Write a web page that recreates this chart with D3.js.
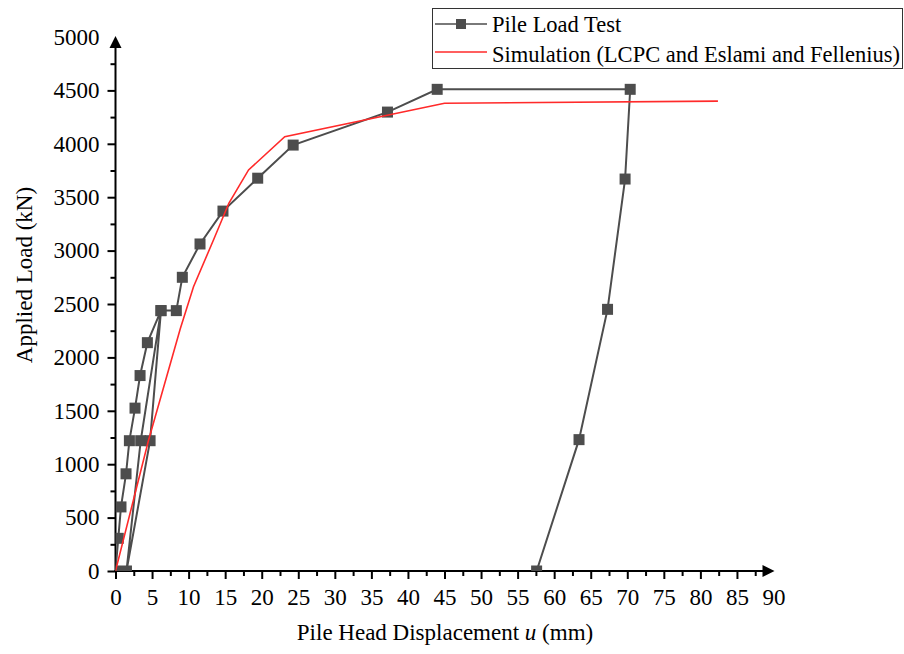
<!DOCTYPE html>
<html>
<head>
<meta charset="utf-8">
<script src="https://cdn.jsdelivr.net/npm/d3@7"></script>
<style>
  html, body { margin: 0; padding: 0; background: #fff; }
  svg { display: block; }
  text { font-family: "Liberation Serif", "Times New Roman", serif; fill: #000; }
</style>
</head>
<body>
<svg id="chart" width="904" height="654"></svg>
<script>
// Pile load test: displacement (mm) and applied load (kN), in test order
const testDisp = [0, 0.38, 0.75, 1.44, 1.9, 2.67, 3.36, 4.36, 6.22, 3.45, 1.5, 4.73, 6.22, 8.32,
  9.14, 11.56, 14.7, 19.45, 24.3, 37.2, 44.0, 70.4, 69.7, 67.3, 63.4, 57.6];
const testLoad = [0, 306, 600, 910, 1220, 1525, 1830, 2138, 2438, 1220, 0, 1220, 2438, 2438,
  2750, 3062, 3370, 3678, 3988, 4297, 4510, 4510, 3670, 2450, 1230, 0];

// Simulated curve (LCPC and Eslami and Fellenius)
const simDisp = [0, 4.5, 8.85, 10.67, 13.4, 15.5, 18.2, 23.15, 45.0, 82.4];
const simLoad = [0, 1220, 2266, 2662, 3099, 3443, 3755, 4066, 4380, 4400];

const xMajorTicks = d3.range(0, 91, 5);
const xMinorTicks = d3.range(2.5, 90, 5);
const yMajorTicks = d3.range(0, 5001, 500);
const yMinorTicks = d3.range(250, 5000, 500);

const seriesNames = ["Pile Load Test", "Simulation (LCPC and Eslami and Fellenius)"];

const svg = d3.select("#chart");
const x = d3.scaleLinear().domain([0, 90]).range([115.5, 773.5]);
const y = d3.scaleLinear().domain([0, 5000]).range([571, 37]);

const grey = "#4d4d4d";
const red = "#ff2a2a";
const fontSize = 23;
const legendFont = 22.5;

// plot-area clip so markers sitting on the axis are cut at the frame
svg.append("defs").append("clipPath").attr("id", "plotClip")
  .append("rect")
  .attr("x", x(0)).attr("y", y(5000))
  .attr("width", x(90) - x(0)).attr("height", y(0) - y(5000));

// ---- axes ----
const xAxis = svg.append("g").attr("transform", `translate(0,${y(0)})`)
  .call(d3.axisBottom(x).tickValues(xMajorTicks).tickSize(8).tickPadding(10)
    .tickFormat(d3.format("d")));
xAxis.select(".domain").remove();
xAxis.selectAll("line").attr("stroke", "#000").attr("stroke-width", 2);
xAxis.selectAll("text").style("font-size", fontSize + "px")
  .style("font-family", "'Liberation Serif', serif").attr("fill", "#000");
// the last tick sits under the arrowhead
xAxis.selectAll(".tick").filter(d => d === 90).select("line").remove();

const xMinor = svg.append("g").attr("transform", `translate(0,${y(0)})`)
  .call(d3.axisBottom(x).tickValues(xMinorTicks).tickSize(5).tickFormat(""));
xMinor.select(".domain").remove();
xMinor.selectAll("line").attr("stroke", "#000").attr("stroke-width", 2);

const yAxis = svg.append("g").attr("transform", `translate(${x(0)},0)`)
  .call(d3.axisLeft(y).tickValues(yMajorTicks).tickSize(8).tickPadding(8)
    .tickFormat(d3.format("d")));
yAxis.select(".domain").remove();
yAxis.selectAll("line").attr("stroke", "#000").attr("stroke-width", 2);
yAxis.selectAll("text").style("font-size", fontSize + "px")
  .style("font-family", "'Liberation Serif', serif").attr("fill", "#000");
yAxis.selectAll(".tick").filter(d => d === 5000).select("line").remove();

const yMinor = svg.append("g").attr("transform", `translate(${x(0)},0)`)
  .call(d3.axisLeft(y).tickValues(yMinorTicks).tickSize(5).tickFormat(""));
yMinor.select(".domain").remove();
yMinor.selectAll("line").attr("stroke", "#000").attr("stroke-width", 2);

// axis lines with arrowheads
svg.append("line")
  .attr("x1", x(0) - 1).attr("x2", x(90) - 10)
  .attr("y1", y(0)).attr("y2", y(0))
  .attr("stroke", "#000").attr("stroke-width", 2);
svg.append("path")
  .attr("d", `M${x(90) + 1},${y(0)} L${x(90) - 11},${y(0) - 6} L${x(90) - 11},${y(0) + 6} Z`)
  .attr("fill", "#000");
svg.append("line")
  .attr("x1", x(0)).attr("x2", x(0))
  .attr("y1", y(0) + 1).attr("y2", y(5000) + 10)
  .attr("stroke", "#000").attr("stroke-width", 2);
svg.append("path")
  .attr("d", `M${x(0)},${y(5000) - 1} L${x(0) - 6},${y(5000) + 11} L${x(0) + 6},${y(5000) + 11} Z`)
  .attr("fill", "#000");

// axis titles
const xTitle = svg.append("text")
  .attr("x", 445).attr("y", 640)
  .attr("text-anchor", "middle")
  .style("font-size", fontSize + "px");
xTitle.append("tspan").text("Pile Head Displacement ");
xTitle.append("tspan").attr("font-style", "italic").text("u");
xTitle.append("tspan").text(" (mm)");

svg.append("text")
  .attr("transform", "translate(32,275) rotate(-90)")
  .attr("text-anchor", "middle")
  .style("font-size", fontSize + "px")
  .text("Applied Load (kN)");

// ---- data ----
const plot = svg.append("g").attr("clip-path", "url(#plotClip)");

const testPts = testDisp.map((d, i) => [d, testLoad[i]]);
const simPts = simDisp.map((d, i) => [d, simLoad[i]]);
const line = d3.line().x(d => x(d[0])).y(d => y(d[1]));

plot.append("path").datum(testPts)
  .attr("d", line).attr("fill", "none")
  .attr("stroke", grey).attr("stroke-width", 2);

const ms = 11;
plot.selectAll("rect.marker").data(testPts).join("rect")
  .attr("class", "marker")
  .attr("x", d => x(d[0]) - ms / 2).attr("y", d => y(d[1]) - ms / 2)
  .attr("width", ms).attr("height", ms)
  .attr("fill", grey);

plot.append("path").datum(simPts)
  .attr("d", line).attr("fill", "none")
  .attr("stroke", red).attr("stroke-width", 1.6);

// ---- legend ----
const lg = svg.append("g");
lg.append("rect")
  .attr("x", 432.5).attr("y", 8.5).attr("width", 470).attr("height", 60)
  .attr("fill", "#fff").attr("stroke", "#333").attr("stroke-width", 1);

lg.append("line").attr("x1", 435).attr("x2", 487).attr("y1", 24).attr("y2", 24)
  .attr("stroke", grey).attr("stroke-width", 1.5);
lg.append("rect").attr("x", 456).attr("y", 19).attr("width", 10).attr("height", 10)
  .attr("fill", grey);
lg.append("text").attr("x", 492).attr("y", 31.5)
  .style("font-size", legendFont + "px").text(seriesNames[0]);

lg.append("line").attr("x1", 435).attr("x2", 487).attr("y1", 52).attr("y2", 52)
  .attr("stroke", red).attr("stroke-width", 1.6);
lg.append("text").attr("x", 492).attr("y", 61.5)
  .style("font-size", legendFont + "px").text(seriesNames[1]);
</script>
</body>
</html>
